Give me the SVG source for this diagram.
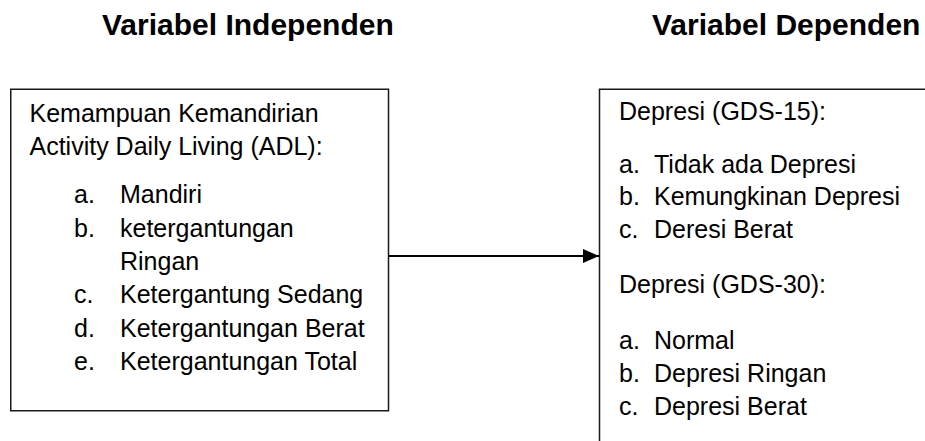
<svg xmlns="http://www.w3.org/2000/svg" width="925" height="441" viewBox="0 0 925 441">
<style>
text{font-family:"Liberation Sans",Arial,sans-serif;fill:#000}
.t{font-size:30px;font-weight:bold}
.b{font-size:25px}
.box{fill:#fff;stroke:#1a1a1a;stroke-width:1.5}
</style>
<defs>
<marker id="ah" markerWidth="16" markerHeight="14" refX="16" refY="7" orient="auto" markerUnits="userSpaceOnUse">
<path d="M0,0 L16,7 L0,14 Z" fill="#000"/>
</marker>
</defs>
<rect width="925" height="441" fill="#fff"/>
<text class="t" x="102" y="35">Variabel Independen</text>
<text class="t" x="652" y="35">Variabel Dependen</text>
<g id="independen">
<rect class="box" x="10.75" y="89.25" width="377.75" height="321.5"/>
<text class="b" x="29.5" y="122">Kemampuan Kemandirian</text>
<text class="b" x="29.5" y="155">Activity Daily Living (ADL):</text>
<text class="b" x="74" y="203">a.</text><text class="b" x="120" y="203">Mandiri</text>
<text class="b" x="74" y="236.5">b.</text><text class="b" x="120" y="236.5">ketergantungan</text>
<text class="b" x="120" y="270">Ringan</text>
<text class="b" x="74" y="303">c.</text><text class="b" x="120" y="303">Ketergantung Sedang</text>
<text class="b" x="74" y="336.5">d.</text><text class="b" x="120" y="336.5">Ketergantungan Berat</text>
<text class="b" x="74" y="370">e.</text><text class="b" x="120" y="370">Ketergantungan Total</text>
</g>
<g id="dependen">
<rect class="box" x="599.5" y="89.25" width="400" height="400"/>
<text class="b" x="619" y="120">Depresi (GDS-15):</text>
<text class="b" x="619" y="173">a.</text><text class="b" x="654" y="173">Tidak ada Depresi</text>
<text class="b" x="619" y="205">b.</text><text class="b" x="654" y="205">Kemungkinan Depresi</text>
<text class="b" x="619" y="238">c.</text><text class="b" x="654" y="238">Deresi Berat</text>
<text class="b" x="619" y="293">Depresi (GDS-30):</text>
<text class="b" x="619" y="349">a.</text><text class="b" x="654" y="349">Normal</text>
<text class="b" x="619" y="382">b.</text><text class="b" x="654" y="382">Depresi Ringan</text>
<text class="b" x="619" y="415">c.</text><text class="b" x="654" y="415">Depresi Berat</text>
</g>
<g id="connectors">
<line x1="388.5" y1="256" x2="599" y2="256" stroke="#000" stroke-width="2" marker-end="url(#ah)"/>
</g>
</svg>
